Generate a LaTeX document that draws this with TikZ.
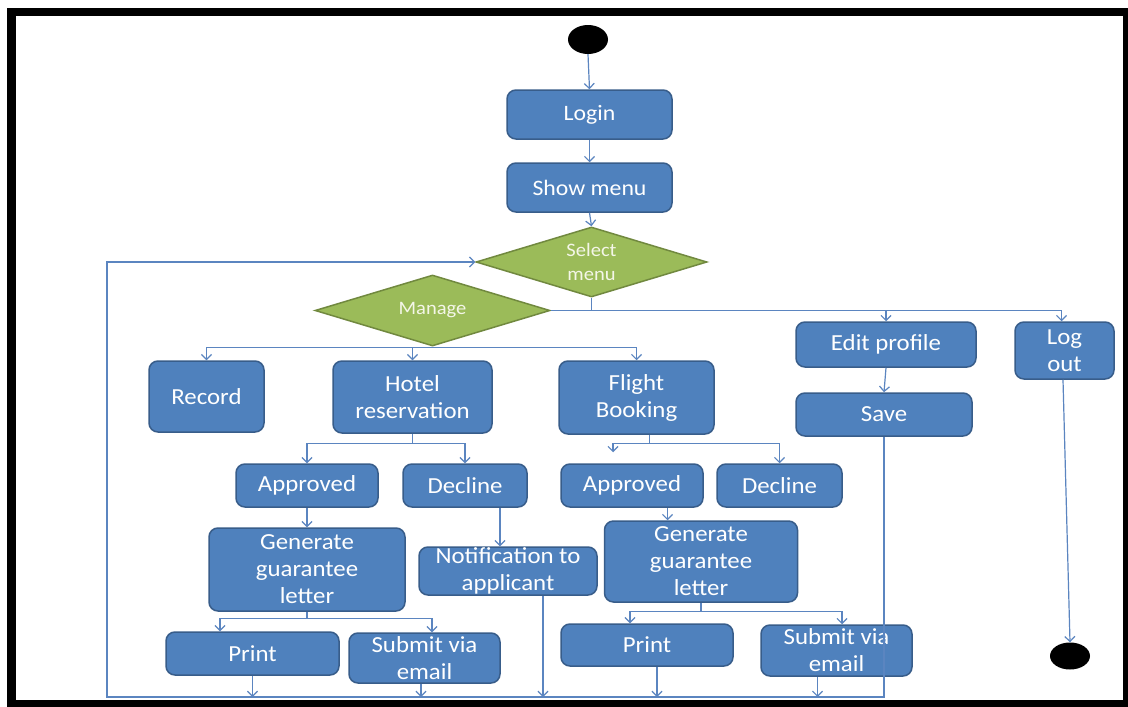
\documentclass[tikz,border=0pt]{standalone}
\usepackage{fontspec}
\setmainfont{Carlito}[FakeStretch=1.08]
\usetikzlibrary{shapes.geometric,arrows.meta,calc}
\definecolor{boxfill}{HTML}{4F81BD}
\definecolor{boxedge}{HTML}{385D8A}
\definecolor{decfill}{HTML}{9BBB59}
\definecolor{decedge}{HTML}{71893F}
\definecolor{wire}{HTML}{5B85C0}
\definecolor{dectext}{HTML}{F4F6E8}
\begin{document}
\begin{tikzpicture}[x=1pt,y=-1pt,
  box/.style={rectangle, rounded corners=9pt, fill=boxfill, draw=boxedge,
    line width=1.5pt, text=white, align=center, inner sep=0pt,
    font=\fontsize{23}{27}\selectfont},
  smallbox/.style={box, font=\fontsize{22}{26}\selectfont},
  decision/.style={diamond, fill=decfill, draw=decedge, line width=1.5pt,
    inner sep=0pt},
  dtext/.style={text=dectext, align=center, inner sep=0pt,
    font=\fontsize{19}{24}\selectfont},
  terminal/.style={ellipse, fill=black, inner sep=0pt},
  conn/.style={draw=wire, line width=1.2pt},
  arr/.style={conn, -{Straight Barb[length=5pt,width=10pt]}}
]
\useasboundingbox (0,0) rectangle (1128,707);
% page and black frame
\fill[white] (0,0) rectangle (1128,707);
\fill[black] (7,8) rectangle (1128,707);
\fill[white] (16,16) rectangle (1123,700);

% start / end
\node[terminal, minimum width=40pt, minimum height=29pt] (start) at (588,39.5) {};
\node[terminal, minimum width=40pt, minimum height=27pt] (end) at (1070,656) {};

% top chain
\node[smallbox, minimum width=165pt, minimum height=49pt] (login) at (589.5,114.5) {Login};
\node[smallbox, minimum width=165pt, minimum height=49pt] (show) at (589.5,187.5) {Show menu};
\node[decision, minimum width=231pt, minimum height=70pt,
  label={[dtext]center:Select\\menu}] (sel) at (591.5,262) {};
\node[decision, minimum width=235pt, minimum height=71pt,
  label={[dtext]center:Manage}] (man) at (432.5,310.5) {};

% second row
\node[box, minimum width=115pt, minimum height=71pt] (record) at (206.5,396.5) {Record};
\node[box, minimum width=159pt, minimum height=72pt] (hotel) at (412.5,397) {Hotel\\reservation};
\node[box, minimum width=155pt, minimum height=73pt] (flight) at (636.5,397.5) {Flight\\Booking};
\node[box, minimum width=180pt, minimum height=45pt] (edit) at (886,344.5) {Edit profile};
\node[box, minimum width=99pt, minimum height=57pt] (logout) at (1064.5,350.5) {Log\\out};
\node[box, minimum width=176pt, minimum height=43pt] (save) at (884,414.5) {Save};

% decisions on requests
\node[box, minimum width=142pt, minimum height=43pt] (happ) at (307,485.5) {Approved};
\node[box, minimum width=124pt, minimum height=43pt] (hdec) at (465,485.5) {Decline};
\node[box, minimum width=142pt, minimum height=43pt] (fapp) at (632,485.5) {Approved};
\node[box, minimum width=125pt, minimum height=43pt] (fdec) at (779.5,485.5) {Decline};

% letters and notification
\node[box, minimum width=196pt, minimum height=83pt] (hgen) at (307,569.5) {Generate\\guarantee\\letter};
\node[box, minimum width=178pt, minimum height=48pt] (notif) at (508,571) {Notification to\\applicant};
\node[box, minimum width=193pt, minimum height=81pt] (fgen) at (701,561.5) {Generate\\guarantee\\letter};

% delivery
\node[box, minimum width=173pt, minimum height=43pt] (hprint) at (252.5,653.5) {Print};
\node[box, minimum width=151pt, minimum height=50pt] (hsub) at (424.5,658) {Submit via\\email};
\node[box, minimum width=172pt, minimum height=42pt] (fprint) at (647,645) {Print};
\node[box, minimum width=151pt, minimum height=51pt] (fsub) at (836.5,650.5) {Submit via\\email};

% ---- connectors ----
\draw[arr] (start.south) -- (login.north);
\draw[arr] (login.south) -- (show.north);
\draw[arr] (show.south) -- (sel.north);

% select menu branches
\draw[conn] (man.east) -| (sel.south);
\draw[arr] (sel.south |- man.east) -| (edit.north);
\draw[arr] (edit.north |- man.east) -| ($(logout.north)+(-3,0)$);
\draw[arr] (edit.south) -- (save.north);

% manage branches
\draw[arr] (man.south) -- ++(0,1) -| (record.north);
\draw[arr] (man.south) -- ++(0,1) -| (hotel.north);
\draw[arr] (man.south) -- ++(0,1) -| (flight.north);

% hotel reservation
\draw[arr] (hotel.south) -- ++(0,10) -| (happ.north);
\draw[arr] (hotel.south) -- ++(0,10) -| (hdec.north);
\draw[arr] (happ.south) -- (hgen.north);
\draw[arr] ($(hdec.south)+(35,0)$) -- ($(notif.north)+(-8,0)$);
\draw[arr] (hgen.south) -- ++(0,7) -| ($(hprint.north)+(-32.5,0)$);
\draw[arr] (hgen.south) -- ++(0,7) -| ($(hsub.north)+(7.5,0)$);

% flight booking
\coordinate (fsplit) at ($(flight.south)+(13,9)$);
\coordinate (fappin) at ($(fapp.north)+(-19,-11)$);
\draw[conn] ($(flight.south)+(13,0)$) -- (fsplit);
\draw[arr] (fsplit) -| (fdec.north);
\draw[arr] (fsplit) -| (fappin);
\coordinate (fa1) at ($(fapp.south)+(35.5,0)$);
\draw[arr] (fa1) -- (fa1 |- fgen.north);
\draw[arr] (fgen.south) -- ++(0,9) -| ($(fprint.north)+(-17,0)$);
\draw[arr] (fgen.south) -- ++(0,9) -| ($(fsub.north)+(5.5,0)$);

% return path to the menu
\coordinate (bl) at (107,697);
\draw[arr] (save.south) |- (bl) |- (sel.west);
\draw[arr] (hprint.south) -- (hprint.south |- bl);
\coordinate (hs1) at ($(hsub.south)+(-3.5,0)$);
\draw[arr] (hs1) -- (hs1 |- bl);
\coordinate (nt1) at ($(notif.south)+(35,0)$);
\draw[arr] (nt1) -- (nt1 |- bl);
\coordinate (fp1) at ($(fprint.south)+(10,0)$);
\draw[arr] (fp1) -- (fp1 |- bl);
\coordinate (fs1) at ($(fsub.south)+(-19,0)$);
\draw[arr] (fs1) -- (fs1 |- bl);

% log out to final state
\draw[arr] ($(logout.south)+(-1.5,0)$) -- (end.north);
\end{tikzpicture}
\end{document}
